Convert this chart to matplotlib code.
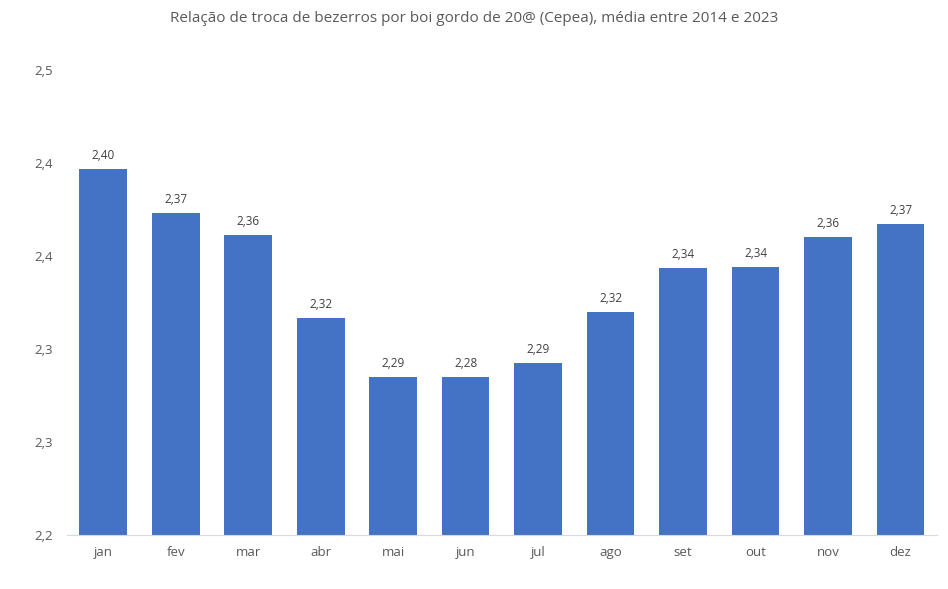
import numpy as np
import matplotlib
matplotlib.use("Agg")
import matplotlib.pyplot as plt
from matplotlib.ticker import FuncFormatter

meses = ["jan", "fev", "mar", "abr", "mai", "jun", "jul", "ago", "set", "out", "nov", "dez"]
relacao = [2.3966, 2.3733, 2.3611, 2.3168, 2.2852, 2.2847, 2.2926, 2.3201, 2.3434, 2.3443, 2.3600, 2.3672]
yticks = [2.20, 2.25, 2.30, 2.35, 2.40, 2.45]

titulo = "Relação de troca de bezerros por boi gordo de 20@ (Cepea), média entre 2014 e 2023"

plt.rcParams['font.family'] = ['Open Sans', 'DejaVu Sans']

fig = plt.figure(figsize=(9.48, 5.89), dpi=100)
ax = fig.add_axes([0.0705, 0.0917, 0.9177, 0.7895])

x = np.arange(len(meses))
bars = ax.bar(x, relacao, width=0.66, color="#4472C4", zorder=2)

for xi, v in zip(x, relacao):
    ax.annotate(f"{v:.2f}".replace(".", ","), (xi, v), xytext=(0, 5), textcoords="offset points",
                ha="center", va="bottom", fontsize=8.5, color="#404040")

ax.set_xlim(-0.5, len(meses) - 0.5)
ax.set_ylim(2.2, 2.45)
ax.set_yticks(yticks)
# excel-style rounding to one decimal (half up)
ax.yaxis.set_major_formatter(FuncFormatter(lambda v, p: f"{v + 1e-9:.1f}".replace(".", ",")))
ax.set_xticks(x)
ax.set_xticklabels(meses)

for s in ["top", "right", "left"]:
    ax.spines[s].set_visible(False)
ax.spines["bottom"].set_color("#d9d9d9")
ax.tick_params(axis="both", length=0, labelsize=9.5, colors="#595959")
ax.tick_params(axis="y", pad=10)
ax.tick_params(axis="x", pad=8)

fig.text(0.5, 0.968, titulo, ha="center", va="center", fontsize=11, color="#595959")

fig.savefig("out.png", dpi=100)
